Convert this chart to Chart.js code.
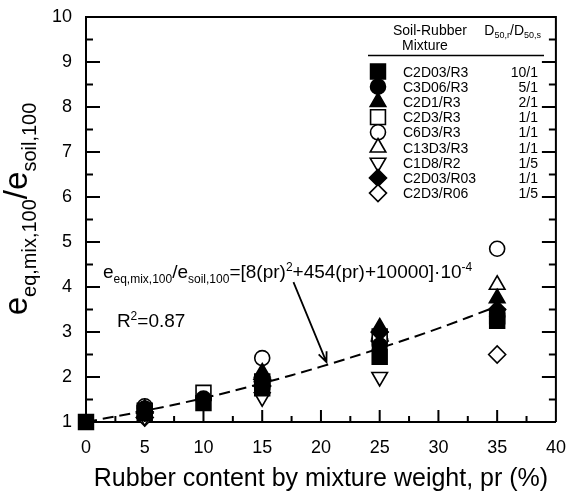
<!DOCTYPE html>
<html>
<head>
<meta charset="utf-8">
<script src="https://cdn.jsdelivr.net/npm/chart.js@4.4.0/dist/chart.umd.min.js"></script>
<style>
html, body { margin: 0; padding: 0; background: #fff; }
</style>
</head>
<body>
<canvas id="chart" width="568" height="494"></canvas>
<script>
// rubber content (%) where each mixture was tested
const rubberContent = [0, 5, 10, 15, 25, 35];
const mixtures = ['C2D03/R3', 'C3D06/R3', 'C2D1/R3', 'C2D3/R3', 'C6D3/R3', 'C13D3/R3', 'C1D8/R2', 'C2D03/R03', 'C2D3/R06'];
const sizeRatios = ['10/1', '5/1', '2/1', '1/1', '1/1', '1/1', '1/5', '1/1', '1/5'];

// e_eq,mix,100 / e_soil,100 per mixture (null = no point)
const c2d03r3 = [1.0, 1.2, 1.42, 1.75, 2.45, 3.25];
const c3d06r3 = [null, 1.3, 1.52, 1.85, 2.7, 3.35];
const c2d1r3 = [null, 1.3, null, 2.1, 3.1, 3.75];
const c2d3r3 = [null, 1.25, 1.65, 1.9, 2.9, 3.35];
const c6d3r3 = [null, 1.35, null, 2.42, 2.85, 4.85];
const c13d3r3 = [null, 1.3, null, 2.0, 2.95, 4.05];
const c1d8r2 = [null, 1.12, null, 1.55, 2.0, null];
const c2d03r03 = [null, 1.22, null, 1.95, 3.0, 3.5];
const c2d3r06 = [null, 1.1, null, 1.8, 2.8, 2.5];
const seriesValues = [c2d03r3, c3d06r3, c2d1r3, c2d3r3, c6d3r3, c13d3r3, c1d8r2, c2d03r03, c2d3r06];

// fitted trend
const fitX = [0, 5, 10, 15, 20, 25, 30, 35];
const fitY = [1.0, 1.25, 1.53, 1.86, 2.23, 2.64, 3.08, 3.57];

const markers = [
    { style: 'rect', filled: true, r: 10.5, rot: 0 },
    { style: 'circle', filled: true, r: 7.5, rot: 0 },
    { style: 'triangle', filled: true, r: 9, rot: 0 },
    { style: 'rect', filled: false, r: 10.5, rot: 0 },
    { style: 'circle', filled: false, r: 7.5, rot: 0 },
    { style: 'triangle', filled: false, r: 9, rot: 0 },
    { style: 'triangle', filled: false, r: 9, rot: 180 },
    { style: 'rectRot', filled: true, r: 8.5, rot: 0 },
    { style: 'rectRot', filled: false, r: 8.5, rot: 0 }
];

const FONT = 'Arial, "Liberation Sans", sans-serif';

function toPoints(xs, ys) {
    const pts = [];
    xs.forEach((x, i) => { if (ys[i] !== null) pts.push({ x: x, y: ys[i] }); });
    return pts;
}

// draw text made of pieces with subscripts / superscripts
function drawRich(ctx, pieces, x, y, align) {
    let total = 0;
    pieces.forEach(p => { ctx.font = p.size + 'px ' + FONT; total += ctx.measureText(p.t).width; });
    let cx = align === 'center' ? x - total / 2 : (align === 'right' ? x - total : x);
    ctx.textAlign = 'left';
    ctx.textBaseline = 'alphabetic';
    pieces.forEach(p => {
        ctx.font = p.size + 'px ' + FONT;
        ctx.fillText(p.t, cx, y + (p.dy || 0));
        cx += ctx.measureText(p.t).width;
    });
}

function drawMarker(ctx, m, x, y) {
    ctx.save();
    ctx.fillStyle = m.filled ? '#000' : '#fff';
    ctx.strokeStyle = '#000';
    ctx.lineWidth = 1.6;
    Chart.helpers.drawPoint(ctx, { pointStyle: m.style, rotation: m.rot, radius: m.r, borderWidth: 1.6 }, x, y);
    ctx.restore();
}

const framePlugin = {
    id: 'frame',
    afterDraw(chart) {
        const ctx = chart.ctx;
        const a = chart.chartArea;
        const xs = chart.scales.x;
        const ys = chart.scales.y;
        ctx.save();
        ctx.strokeStyle = '#000';
        ctx.lineWidth = 2;
        ctx.beginPath();
        ctx.moveTo(a.left, a.top); ctx.lineTo(a.right, a.top); ctx.lineTo(a.right, a.bottom);
        // inward ticks on x axis
        for (let v = 0; v <= 40; v += 2.5) {
            const px = xs.getPixelForValue(v);
            const len = v % 5 === 0 ? 12 : 6;
            ctx.moveTo(px, a.bottom); ctx.lineTo(px, a.bottom - len);
        }
        // inward ticks on left and right
        for (let v = 1; v <= 10; v += 0.5) {
            const py = ys.getPixelForValue(v);
            const len = v % 1 === 0 ? 14 : 7;
            ctx.moveTo(a.left, py); ctx.lineTo(a.left + len, py);
            ctx.moveTo(a.right, py); ctx.lineTo(a.right - len, py);
        }
        ctx.stroke();

        // y axis title
        ctx.fillStyle = '#000';
        ctx.save();
        ctx.translate(27, 209);
        ctx.rotate(-Math.PI / 2);
        drawRich(ctx, [
            { t: 'e', size: 33 }, { t: 'eq,mix,100', size: 20, dy: 9 },
            { t: '/', size: 33 }, { t: 'e', size: 33 }, { t: 'soil,100', size: 20, dy: 9 }
        ], 0, 0, 'center');
        ctx.restore();

        // fit equation and R2
        const ex = xs.getPixelForValue(1.44), ey = ys.getPixelForValue(4.2);
        drawRich(ctx, [
            { t: 'e', size: 19 }, { t: 'eq,mix,100', size: 12, dy: 5 },
            { t: '/', size: 19 }, { t: 'e', size: 19 }, { t: 'soil,100', size: 12, dy: 5 },
            { t: '=[8(pr)', size: 19 }, { t: '2', size: 12, dy: -7 },
            { t: '+454(pr)+10000]\u00b710', size: 19 }, { t: '-4', size: 12, dy: -7 }
        ], ex, ey, 'left');
        drawRich(ctx, [{ t: 'R', size: 19 }, { t: '2', size: 12, dy: -7 }, { t: '=0.87', size: 19 }],
            xs.getPixelForValue(2.63), ys.getPixelForValue(3.11), 'left');

        // arrow to the curve
        const x1 = xs.getPixelForValue(17.66), y1 = ys.getPixelForValue(4.11);
        const x2 = xs.getPixelForValue(20.47), y2 = ys.getPixelForValue(2.33);
        const ang = Math.atan2(y2 - y1, x2 - x1);
        ctx.lineWidth = 1.8;
        ctx.beginPath();
        ctx.moveTo(x1, y1); ctx.lineTo(x2, y2);
        ctx.moveTo(x2 - 11 * Math.cos(ang - 0.4), y2 - 11 * Math.sin(ang - 0.4));
        ctx.lineTo(x2, y2);
        ctx.lineTo(x2 - 11 * Math.cos(ang + 0.4), y2 - 11 * Math.sin(ang + 0.4));
        ctx.stroke();

        // legend table
        drawRich(ctx, [{ t: 'Soil-Rubber', size: 14 }], 393, 35, 'left');
        drawRich(ctx, [{ t: 'Mixture', size: 14 }], 402, 50, 'left');
        drawRich(ctx, [
            { t: 'D', size: 14 }, { t: '50,r', size: 9, dy: 3 }, { t: '/D', size: 14 }, { t: '50,s', size: 9, dy: 3 }
        ], 541, 35, 'right');
        ctx.lineWidth = 1.5;
        ctx.beginPath();
        ctx.moveTo(368, 55.5); ctx.lineTo(544, 55.5);
        ctx.stroke();
        mixtures.forEach((name, i) => {
            const ry = 71.5 + i * 15.2;
            drawMarker(ctx, markers[i], 378, ry);
            ctx.fillStyle = '#000';
            drawRich(ctx, [{ t: name, size: 14 }], 403, ry + 5, 'left');
            drawRich(ctx, [{ t: sizeRatios[i], size: 14 }], 538, ry + 5, 'right');
        });
        ctx.restore();
    }
};

const datasets = mixtures.map((name, i) => ({
    label: name,
    data: toPoints(rubberContent, seriesValues[i]),
    pointStyle: markers[i].style,
    pointRotation: markers[i].rot,
    pointRadius: markers[i].r,
    pointBorderWidth: 1.6,
    pointBackgroundColor: markers[i].filled ? '#000' : '#fff',
    pointBorderColor: '#000',
    showLine: false,
    clip: false,
    order: markers[i].filled ? 1 : 2
}));
datasets.push({
    label: 'fit',
    data: toPoints(fitX, fitY),
    showLine: true,
    borderColor: '#000',
    borderWidth: 2,
    borderDash: [11, 6],
    tension: 0.4,
    pointRadius: 0,
    order: 3
});

new Chart(document.getElementById('chart').getContext('2d'), {
    type: 'scatter',
    data: { datasets: datasets },
    options: {
        responsive: false,
        animation: false,
        layout: { padding: { left: 0, right: 11, top: 17, bottom: 0 } },
        plugins: { legend: { display: false }, tooltip: { enabled: false } },
        scales: {
            x: {
                min: 0, max: 40,
                afterFit(s) { s.height = 72; s.paddingLeft = 0; s.paddingRight = 0; },
                grid: { display: false, drawTicks: false },
                border: { display: true, color: '#000', width: 2 },
                ticks: { stepSize: 5, padding: 15, color: '#000', font: { family: FONT, size: 18 }, maxRotation: 0 },
                title: {
                    display: true, text: 'Rubber content by mixture weight, pr (%)',
                    color: '#000', font: { family: FONT, size: 25 }, padding: { top: 0, bottom: 0 }
                }
            },
            y: {
                min: 1, max: 10,
                afterFit(s) { s.width = 86; s.paddingTop = 0; s.paddingBottom = 0; },
                grid: { display: false, drawTicks: false },
                border: { display: true, color: '#000', width: 2 },
                ticks: { stepSize: 1, padding: 14, color: '#000', font: { family: FONT, size: 18 } }
            }
        }
    },
    plugins: [framePlugin]
});
</script>
</body>
</html>
